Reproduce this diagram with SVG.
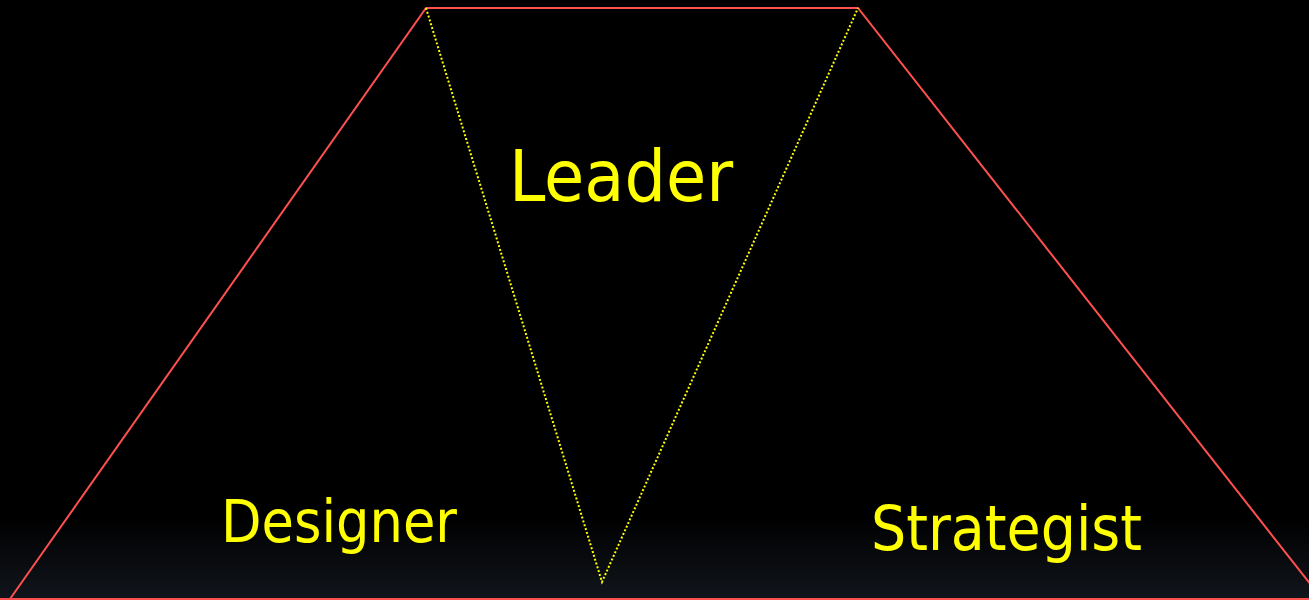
<svg xmlns="http://www.w3.org/2000/svg" width="1309" height="600" viewBox="0 0 1309 600">
  <defs>
    <linearGradient id="bg" x1="0" y1="0" x2="0" y2="600" gradientUnits="userSpaceOnUse">
      <stop offset="0" stop-color="#000000"/>
      <stop offset="0.86" stop-color="#000000"/>
      <stop offset="1" stop-color="#11151c"/>
    </linearGradient>
    <style>
      .edge { fill: none; stroke: #ff5050; stroke-width: 2; stroke-linejoin: miter; }
      .dot { fill: none; stroke: #ffff00; stroke-width: 2; stroke-dasharray: 2 2; }
      .lbl { fill: #ffff00; font-family: "DejaVu Sans Condensed", "DejaVu Sans", sans-serif; font-stretch: condensed; }
    </style>
  </defs>
  <rect x="0" y="0" width="1309" height="600" fill="url(#bg)"/>
  <g id="connectors">
    <polyline class="edge" points="10,599 426,8 858,8 1322,599"/>
    <line class="edge" x1="0" y1="599" x2="1309" y2="599"/>
    <polyline class="dot" points="426,8 602,582 858,8"/>
  </g>
  <g id="leader">
    <text class="lbl" x="509" y="201" font-size="71" textLength="224" lengthAdjust="spacingAndGlyphs">Leader</text>
  </g>
  <g id="designer">
    <text class="lbl" x="221" y="542" font-size="58" textLength="236" lengthAdjust="spacingAndGlyphs">Designer</text>
  </g>
  <g id="strategist">
    <text class="lbl" x="871" y="550" font-size="62" textLength="271" lengthAdjust="spacingAndGlyphs">Strategist</text>
  </g>
</svg>
